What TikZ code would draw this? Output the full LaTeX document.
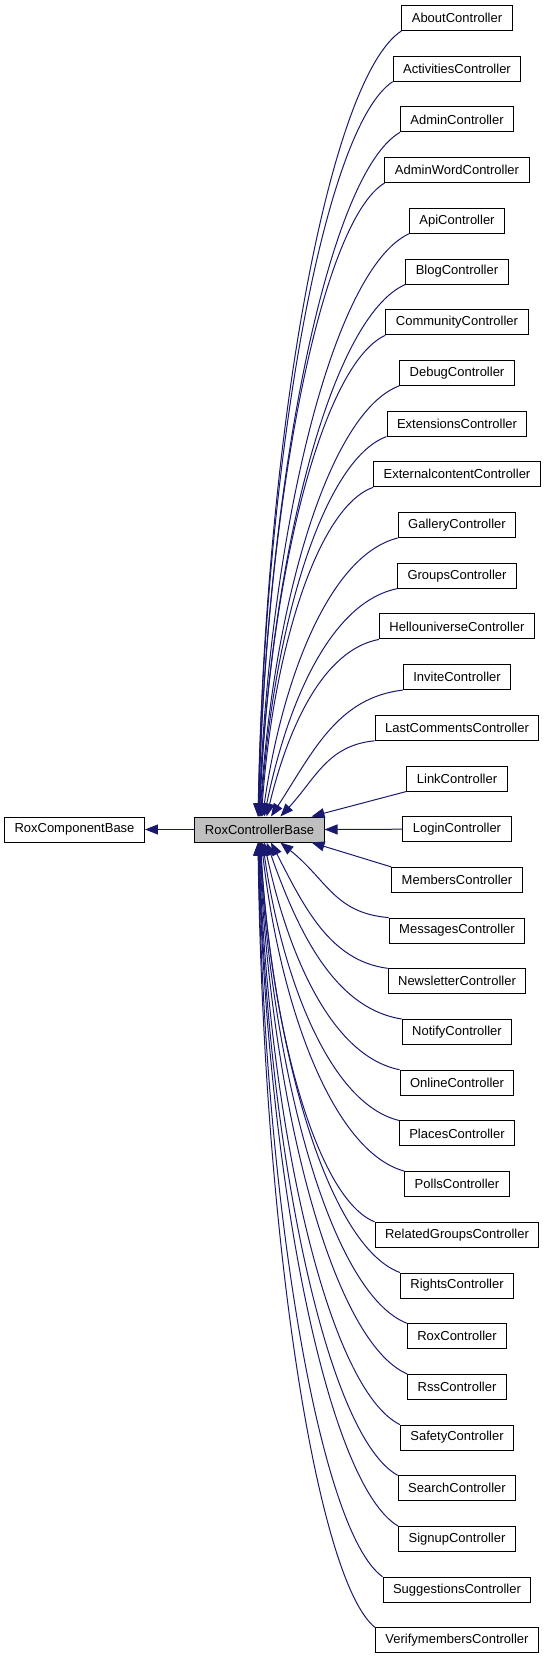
\documentclass[tikz,border=0pt]{standalone}
\usepackage{fontspec}
\setmainfont{Liberation Sans}
\usetikzlibrary{calc,arrows.meta}
\definecolor{edgeblue}{HTML}{191970}
\definecolor{basegray}{HTML}{BFBFBF}
\tikzset{
  cls/.style={draw=black, line width=1pt, fill=white, font=\fontsize{13}{15}\selectfont,
    inner xsep=10pt, inner ysep=0pt, minimum height=25pt},
  basecls/.style={cls, fill=basegray},
  inh/.style={draw=edgeblue, line width=1pt, {Triangle[length=13pt,width=10pt]}-},
}
\begin{document}
\begin{tikzpicture}[x=1pt,y=-1pt]
  \useasboundingbox (0,0) rectangle (547,1659);
  \node[cls] (comp) at (74.5,829.5) {RoxComponentBase};
  \node[basecls] (base) at (259.5,829.5) {RoxControllerBase};
  \draw[inh] (comp.east) -- (base.west);
  % derived controllers, one row each
  \foreach \cname [count=\i from 0] in {About,Activities,Admin,AdminWord,Api,Blog,
      Community,Debug,Extensions,Externalcontent,Gallery,Groups,Hellouniverse,Invite,
      LastComments,Link,Login,Members,Messages,Newsletter,Notify,Online,Places,Polls,
      RelatedGroups,Rights,Rox,Rss,Safety,Search,Signup,Suggestions,Verifymembers}
    \node[cls] (c\i) at (457,{18+50.7*\i}) {\cname Controller};
  % the three nearest rows go straight in
  \draw[inh] (base.east) -- (c16.west);
  \draw[inh] ([xshift=-13pt]base.north east) -- (c15.south west);
  \draw[inh] ([xshift=-13pt]base.south east) -- (c17.north west);
  % rows above the base
  \foreach \i in {0,...,14} {
    \pgfmathsetmacro\hx{256+56/(16-\i)^1.2}
    \coordinate (hd) at (\hx,0 |- base.north);
    \draw[inh] let \p1 = (c\i.south west), \p2 = (hd), \n1 = {\x1-\x2}, \n2 = {\y1-\y2},
      \n3 = {min(0.3*\n1*(\n1/\n2), 0.5*\n1)} in
      (\p2) .. controls ({\x2+\n3}, {\y2+0.5*\n2}) and ({\x1-0.5*\n1}, {\y1-0.06*\n2}) .. (\p1);
  }
  % rows below the base
  \foreach \i in {18,...,32} {
    \pgfmathsetmacro\hx{256+56/(\i-16)^1.2}
    \coordinate (hd) at (\hx,0 |- base.south);
    \draw[inh] let \p1 = (c\i.north west), \p2 = (hd), \n1 = {\x1-\x2}, \n2 = {\y2-\y1},
      \n3 = {min(0.3*\n1*(\n1/\n2), 0.5*\n1)} in
      (\p2) .. controls ({\x2+\n3}, {\y2-0.5*\n2}) and ({\x1-0.5*\n1}, {\y1+0.06*\n2}) .. (\p1);
  }
\end{tikzpicture}
\end{document}
